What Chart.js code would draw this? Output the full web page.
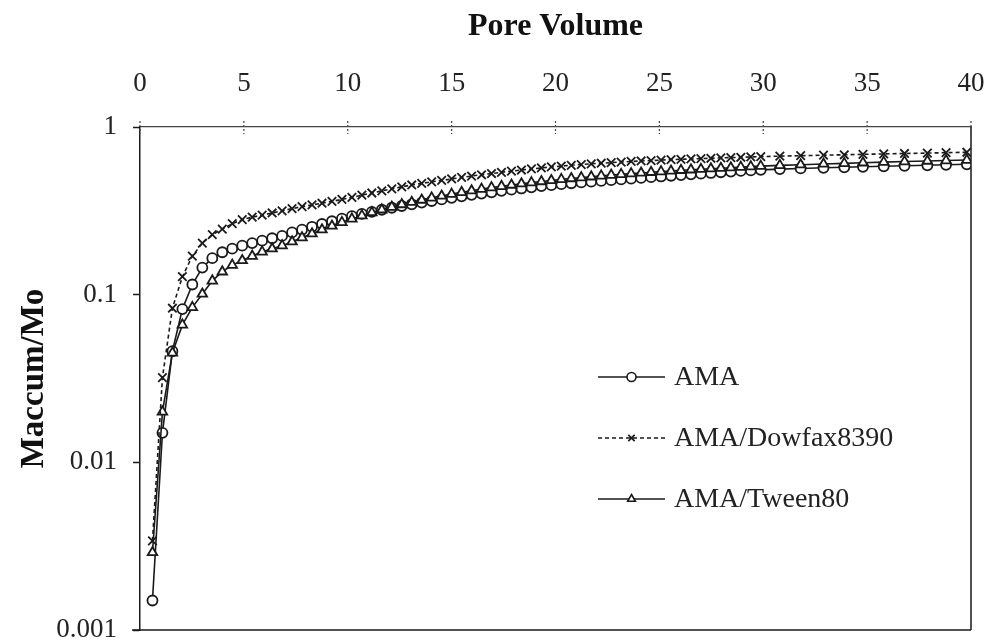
<!DOCTYPE html>
<html>
<head>
<meta charset="utf-8">
<script src="https://cdn.jsdelivr.net/npm/chart.js@4.4.1/dist/chart.umd.min.js"></script>
<style>
  html, body { margin: 0; padding: 0; background: #ffffff; }
  #wrap { width: 988px; height: 642px; position: relative; }
</style>
</head>
<body>
<div id="wrap"><canvas id="c" width="988" height="642"></canvas></div>
<script>
// ---------- data ----------
const poreVolume = [
  0.6, 1.08, 1.56, 2.04, 2.52, 3.0, 3.48, 3.96, 4.44, 4.92,
  5.4, 5.88, 6.36, 6.84, 7.32, 7.8, 8.28, 8.76, 9.24, 9.72,
  10.2, 10.68, 11.16, 11.64, 12.12, 12.6, 13.08, 13.56, 14.04, 14.52,
  15.0, 15.48, 15.96, 16.44, 16.92, 17.4, 17.88, 18.36, 18.84, 19.32,
  19.8, 20.28, 20.76, 21.24, 21.72, 22.2, 22.68, 23.16, 23.64, 24.12,
  24.6, 25.08, 25.56, 26.04, 26.52, 27.0, 27.48, 27.96, 28.44, 28.92,
  29.4, 29.88,
  30.8, 31.8, 32.9, 33.9, 34.8, 35.8, 36.8, 37.9, 38.8, 39.8
];
const ama = [
  0.0015, 0.015, 0.046, 0.082, 0.115, 0.145, 0.165, 0.179, 0.188, 0.196,
  0.203, 0.210, 0.217, 0.224, 0.235, 0.244, 0.254, 0.264, 0.274, 0.284,
  0.294, 0.303, 0.312, 0.321, 0.330, 0.338, 0.346, 0.354, 0.362, 0.370,
  0.378, 0.386, 0.394, 0.401, 0.408, 0.416, 0.423, 0.430, 0.437, 0.444,
  0.450, 0.456, 0.462, 0.467, 0.472, 0.477, 0.482, 0.487, 0.492, 0.497,
  0.502, 0.507, 0.512, 0.517, 0.522, 0.527, 0.532, 0.537, 0.542, 0.547,
  0.551, 0.555,
  0.561, 0.566, 0.571, 0.575, 0.579, 0.583, 0.587, 0.591, 0.595, 0.599
];
const dowfax = [
  0.0034, 0.032, 0.083, 0.128, 0.170, 0.203, 0.228, 0.246, 0.265, 0.280,
  0.290, 0.298, 0.307, 0.316, 0.326, 0.335, 0.343, 0.351, 0.360, 0.370,
  0.380, 0.392, 0.404, 0.416, 0.428, 0.440, 0.451, 0.461, 0.471, 0.480,
  0.490, 0.500, 0.510, 0.519, 0.528, 0.537, 0.546, 0.554, 0.562, 0.570,
  0.578, 0.585, 0.591, 0.597, 0.603, 0.608, 0.613, 0.618, 0.623, 0.627,
  0.631, 0.635, 0.639, 0.642, 0.645, 0.648, 0.651, 0.654, 0.657, 0.660,
  0.663, 0.666,
  0.670, 0.674, 0.679, 0.683, 0.687, 0.691, 0.695, 0.699, 0.703, 0.707
];
const tween = [
  0.0029, 0.020, 0.045, 0.066, 0.084, 0.101, 0.121, 0.137, 0.150, 0.160,
  0.170, 0.180, 0.188, 0.196, 0.207, 0.219, 0.231, 0.244, 0.257, 0.270,
  0.283, 0.296, 0.309, 0.321, 0.333, 0.345, 0.356, 0.367, 0.378, 0.388,
  0.398, 0.408, 0.417, 0.426, 0.435, 0.443, 0.451, 0.459, 0.466, 0.473,
  0.480, 0.487, 0.493, 0.499, 0.505, 0.511, 0.517, 0.522, 0.527, 0.532,
  0.537, 0.542, 0.547, 0.552, 0.556, 0.560, 0.564, 0.568, 0.572, 0.576,
  0.580, 0.584,
  0.590, 0.596, 0.602, 0.607, 0.612, 0.617, 0.622, 0.627, 0.631, 0.635
];
const seriesNames = ['AMA', 'AMA/Dowfax8390', 'AMA/Tween80'];
const yTickValues = [0.001, 0.01, 0.1, 1];
const yTickLabels = ['0.001', '0.01', '0.1', '1'];
const xTitle = 'Pore Volume';
const yTitle = 'Maccum/Mo';

// ---------- helpers ----------
function toPoints(xs, ys) { return xs.map((x, i) => ({ x: x, y: ys[i] })); }
const FONT = "'Liberation Serif', 'Times New Roman', serif";
const INK = '#1a1a1a';

const frame = {
  id: 'frame',
  afterDatasetsDraw(chart) {
    const { ctx, chartArea: a } = chart;
    ctx.save();
    ctx.strokeStyle = INK;
    ctx.lineWidth = 1.5;
    ctx.beginPath();
    ctx.moveTo(a.left - 8, a.bottom);
    ctx.lineTo(a.right, a.bottom);
    ctx.moveTo(a.right, a.top);
    ctx.lineTo(a.right, a.bottom);
    ctx.stroke();
    // x tick marks crossing the dotted top line
    const xs = chart.scales.x;
    ctx.strokeStyle = '#444444';
    ctx.lineWidth = 1.2;
    ctx.setLineDash([2, 2]);
    xs.ticks.forEach(t => {
      const px = xs.getPixelForValue(t.value);
      ctx.beginPath();
      ctx.moveTo(px, a.top - 6);
      ctx.lineTo(px, a.top + 7);
      ctx.stroke();
    });
    ctx.restore();
  }
};

const insideLegend = {
  id: 'insideLegend',
  afterDraw(chart, args, opts) {
    const { ctx } = chart;
    ctx.save();
    seriesNames.forEach((name, i) => {
      const ds = chart.data.datasets.find(d => d.label === name);
      const y = opts.top + i * opts.rowGap;
      ctx.strokeStyle = INK;
      ctx.lineWidth = 1.5;
      ctx.setLineDash(ds.borderDash || []);
      ctx.beginPath();
      ctx.moveTo(opts.left, y);
      ctx.lineTo(opts.left + opts.lineLen, y);
      ctx.stroke();
      ctx.setLineDash([]);
      ctx.fillStyle = '#ffffff';
      ctx.strokeStyle = INK;
      ctx.lineWidth = 1.6;
      Chart.helpers.drawPoint(ctx, { pointStyle: ds.pointStyle, radius: 4.5, borderWidth: 1.6, rotation: 0 },
        opts.left + opts.lineLen / 2, y);
      ctx.fillStyle = '#222222';
      ctx.font = '28px ' + FONT;
      ctx.textBaseline = 'middle';
      ctx.textAlign = 'left';
      ctx.fillText(name, opts.left + opts.lineLen + 9, y + 1);
    });
    ctx.restore();
  }
};

const commonDs = {
  borderColor: INK,
  pointBorderColor: INK,
  pointBackgroundColor: '#ffffff',
  borderWidth: 1.6,
  pointBorderWidth: 1.8,
  tension: 0,
  fill: false
};

new Chart(document.getElementById('c'), {
  type: 'line',
  data: {
    datasets: [
      Object.assign({}, commonDs, { label: seriesNames[1], data: toPoints(poreVolume, dowfax), pointStyle: 'crossRot', pointRadius: 6, borderDash: [4, 3] }),
      Object.assign({}, commonDs, { label: seriesNames[2], data: toPoints(poreVolume, tween), pointStyle: 'triangle', pointRadius: 5.5 }),
      Object.assign({}, commonDs, { label: seriesNames[0], data: toPoints(poreVolume, ama), pointStyle: 'circle', pointRadius: 5 })
    ]
  },
  options: {
    responsive: false,
    animation: false,
    devicePixelRatio: 1,
    layout: { padding: { left: 0, top: 0, right: 17, bottom: 12 } },
    plugins: {
      legend: { display: false },
      tooltip: { enabled: false },
      insideLegend: { left: 598, top: 377, rowGap: 61, lineLen: 67 }
    },
    scales: {
      x: {
        type: 'linear',
        position: 'top',
        min: 0,
        max: 40,
        ticks: { stepSize: 5, color: '#222222', font: { family: FONT, size: 27 }, padding: 20, maxRotation: 0 },
        grid: { display: true, drawOnChartArea: false, drawTicks: true, tickLength: 7, color: 'rgba(0,0,0,0)' },
        border: { display: true, color: '#444444', width: 1.3, dash: [2, 2] },
        title: { display: true, text: xTitle, color: '#111111', font: { family: FONT, size: 32, weight: 'bold' }, padding: { top: 8, bottom: 0 } },
        afterFit(scale) { scale.height = 127; scale.paddingLeft = 0; scale.paddingRight = 0; }
      },
      y: {
        type: 'logarithmic',
        position: 'left',
        min: 0.001,
        max: 1,
        afterBuildTicks(scale) { scale.ticks = yTickValues.map(v => ({ value: v, major: true })); },
        ticks: {
          color: '#222222',
          font: { family: FONT, size: 27 },
          padding: 16,
          callback: (v) => { const k = yTickValues.indexOf(v); return k >= 0 ? yTickLabels[k] : ''; }
        },
        grid: { display: true, drawOnChartArea: false, drawTicks: true, tickLength: 7, color: INK, tickWidth: 1.5 },
        border: { display: true, color: INK, width: 1.5 },
        title: { display: true, text: yTitle, color: '#111111', font: { family: FONT, size: 33, weight: 'bold' }, padding: { top: 15, bottom: 0 } },
        afterFit(scale) { scale.width = 140; scale.paddingTop = 0; scale.paddingBottom = 0; }
      }
    }
  },
  plugins: [frame, insideLegend]
});
</script>
</body>
</html>
